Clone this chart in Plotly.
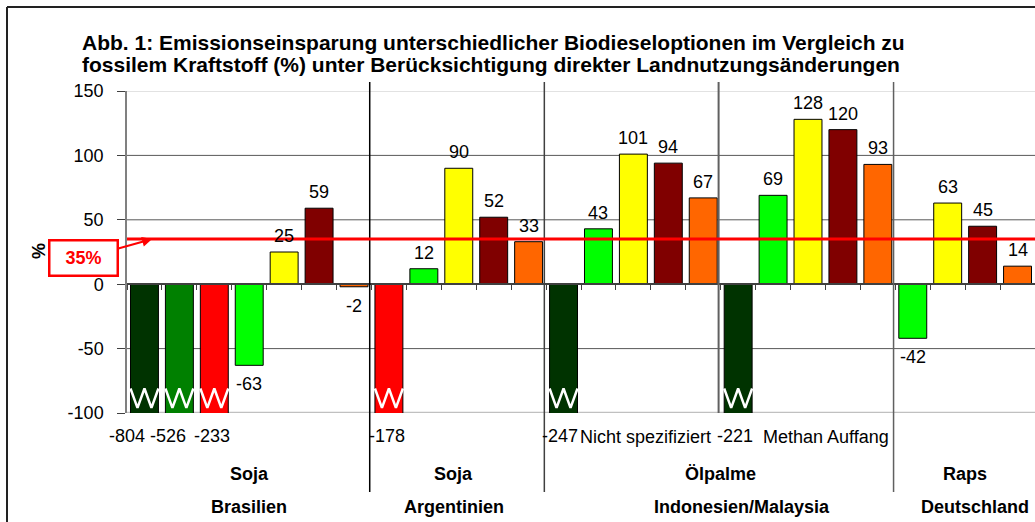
import plotly.graph_objects as go

# ---------------- data ----------------
values = [-804, -526, -233, -63, 25, 59, -2,
          -178, 12, 90, 52, 33,
          -247, 43, 101, 94, 67,
          -221, 69, 128, 120, 93,
          -42, 63, 45, 14]
bar_kind = ["dg", "g", "r", "lg", "y", "dr", "o",
            "r", "lg", "y", "dr", "o",
            "dg", "lg", "y", "dr", "o",
            "dg", "lg", "y", "dr", "o",
            "lg", "y", "dr", "o"]
crop_labels = ["Soja", "Soja", "Ölpalme", "Raps"]
country_labels = ["Brasilien", "Argentinien", "Indonesien/Malaysia", "Deutschland"]
group_sizes = [7, 5, 10, 4]
sub_labels = ["Nicht spezifiziert", "Methan Auffang"]
sub_sizes = [5, 5]
threshold = 35
y_ticks = [-100, -50, 0, 50, 100, 150]
title_lines = ["Abb. 1: Emissionseinsparung unterschiedlicher Biodieseloptionen im Vergleich zu",
               "fossilem Kraftstoff (%) unter Berücksichtigung direkter Landnutzungsänderungen"]

# ---------------- style ----------------
palette = {"dg": "#003300", "g": "#008000", "r": "#FF0000", "lg": "#00FF00",
           "y": "#FFFF00", "dr": "#800000", "o": "#FF6600"}
FONT = "Liberation Sans, Arial, sans-serif"
OFF = 0  # page body margin removed by post script
W, H = 1035, 522
L, T = 127 - OFF, 91 - OFF
R = W - (1035 - OFF)
B = H - (413 - OFF)
YMIN, YMAX = y_ticks[0], y_ticks[-1]
PW, PH = W - L - R, H - T - B


def px_x(px):
    return (px - OFF - L) / PW


def px_y(py):
    return (H - B - (py - OFF)) / PH


n = len(values)
xs = list(range(n))
fig = go.Figure()

fig.add_trace(go.Bar(
    x=xs, y=values, width=0.8,
    marker=dict(color=[palette[k] for k in bar_kind], line=dict(color="black", width=1)),
    hoverinfo="skip", showlegend=False))

# zigzag break marks on truncated bars
ZIG_TOP, ZIG_BOT = -81, -96
for i, v in enumerate(values):
    if v < YMIN:
        zx = [i - 0.4 + 0.8 * f for f in (0, 0.25, 0.5, 0.75, 1.0)]
        zy = [ZIG_TOP, ZIG_BOT, ZIG_TOP, ZIG_BOT, ZIG_TOP]
        fig.add_trace(go.Scatter(x=zx, y=zy, mode="lines", line=dict(color="white", width=2.5),
                                 hoverinfo="skip", showlegend=False))

annotations = []
trunc_shift = {0: -17, 1: -11, 2: -2, 7: -2, 12: -4, 17: -3}
for i, v in enumerate(values):
    if v < YMIN:
        annotations.append(dict(x=i, y=YMIN, text=str(v), showarrow=False, yanchor="top",
                                yshift=-11, xshift=trunc_shift.get(i, 0)))
    elif v >= 0:
        annotations.append(dict(x=i, y=v, text=str(v), showarrow=False, yanchor="bottom", yshift=4))
    else:
        annotations.append(dict(x=i, y=v, text=str(v), showarrow=False, yanchor="top", yshift=-7))

# group labels and separators
starts = []
s = 0
for g in group_sizes:
    starts.append(s)
    s += g
group_shift = [0, -5, 0, 0]
country_shift = [0, -5, 21, 10]
for k, (st, g) in enumerate(zip(starts, group_sizes)):
    c = st + (g - 1) / 2
    annotations.append(dict(x=c, y=px_y(474), yref="paper", yanchor="middle",
                            text="<b>%s</b>" % crop_labels[k], showarrow=False, xshift=group_shift[k]))
    annotations.append(dict(x=c, y=px_y(507), yref="paper", yanchor="middle",
                            text="<b>%s</b>" % country_labels[k], showarrow=False, xshift=country_shift[k]))

# sub-group labels within Ölpalme
sub_start = starts[2]
sub_shift = [12, 18]
for k, g in enumerate(sub_sizes):
    c = sub_start + (g - 1) / 2
    annotations.append(dict(x=c, y=px_y(437), yref="paper", yanchor="middle", text=sub_labels[k],
                            showarrow=False, xshift=sub_shift[k]))
    sub_start += g

shapes = []
# horizontal gridlines (interior ticks)
for t in y_ticks[1:-1]:
    if t != 0:
        shapes.append(dict(type="line", xref="paper", yref="y", x0=0, x1=1, y0=t, y1=t,
                           line=dict(color="#595959", width=1), layer="below"))
# plot borders top / bottom
shapes.append(dict(type="line", xref="paper", yref="y", x0=0, x1=1, y0=YMAX, y1=YMAX,
                   line=dict(color="#D9D9D9", width=1.5), layer="below"))
shapes.append(dict(type="line", xref="paper", yref="y", x0=0, x1=1, y0=YMIN, y1=YMIN,
                   line=dict(color="#C0C0C0", width=2.5), layer="below"))

sep_colors = ["#000000", "#404040", "#606060"]
for k, st in enumerate(starts[1:]):
    shapes.append(dict(type="line", xref="x", yref="paper", x0=st - 0.55, x1=st - 0.55,
                       y0=px_y(492), y1=px_y(82), line=dict(color=sep_colors[min(k, 2)], width=1.5)))
mid = starts[2] + sub_sizes[0]
shapes.append(dict(type="line", xref="x", yref="paper", x0=mid - 0.56, x1=mid - 0.56,
                   y0=0, y1=px_y(82), line=dict(color="#606060", width=2)))

# threshold line
shapes.append(dict(type="line", xref="paper", yref="y", x0=0, x1=1, y0=threshold, y1=threshold,
                   line=dict(color="#FF0000", width=3)))
# outer frame (left and top edges)
fx0 = px_x(7)
fy1 = px_y(7)
shapes.append(dict(type="line", xref="paper", yref="paper", x0=fx0, x1=fx0, y0=-2, y1=fy1,
                   line=dict(color="#222222", width=2)))
shapes.append(dict(type="line", xref="paper", yref="paper", x0=fx0, x1=2, y0=fy1, y1=fy1,
                   line=dict(color="#222222", width=2)))

# threshold callout
annotations.append(dict(x=0.22, y=threshold, text="<b>%d%%</b>" % threshold,
                        font=dict(color="#FF0000", size=18, family=FONT),
                        showarrow=True, arrowhead=2, arrowsize=1, arrowwidth=2,
                        arrowcolor="#FF0000", ax=-69, ay=19,
                        bordercolor="#FF0000", borderwidth=2.5, borderpad=2,
                        width=62, height=29, bgcolor="white"))

# y-axis title
annotations.append(dict(x=px_x(39), y=px_y(251), xref="paper", yref="paper", text="<b>%</b>",
                        textangle=-90, showarrow=False, xanchor="center", yanchor="middle",
                        font=dict(size=18)))

# title lines
for k, line in enumerate(title_lines):
    annotations.append(dict(x=px_x(80), y=px_y(43 + 22 * k), xref="paper", yref="paper",
                            xanchor="left", yanchor="middle", text="<b>%s</b>" % line,
                            showarrow=False, font=dict(size=21)))

fig.update_layout(
    width=W, height=H, margin=dict(l=L, r=R, t=T, b=B, pad=0),
    paper_bgcolor="white", plot_bgcolor="white",
    font=dict(family=FONT, size=18, color="black"),
    bargap=0.2, showlegend=False,
    xaxis=dict(range=[-0.5, n - 0.5], anchor="free", position=(0 - YMIN) / (YMAX - YMIN),
               showgrid=False, zeroline=False, showline=True, linecolor="#404040", linewidth=1.5,
               tickmode="array", tickvals=[i + 0.5 for i in range(-1, n)], ticktext=[""] * (n + 1),
               ticks="outside", ticklen=5, tickcolor="#404040", showticklabels=False),
    yaxis=dict(range=[YMIN, YMAX], tickmode="array", tickvals=y_ticks,
               ticktext=[str(t) for t in y_ticks],
               showgrid=False, zeroline=False,
               showline=True, linecolor="#808080", linewidth=1.5,
               ticks="outside", ticklen=8, tickcolor="#404040", ticklabelstandoff=10,
               tickfont=dict(size=18)),
    annotations=annotations, shapes=shapes,
)

fig.write_html("out.html",
               config={"displayModeBar": False},
               post_script="document.body.style.margin='0';"
                           "document.documentElement.style.overflow='hidden';"
                           "document.body.style.overflow='hidden';")
